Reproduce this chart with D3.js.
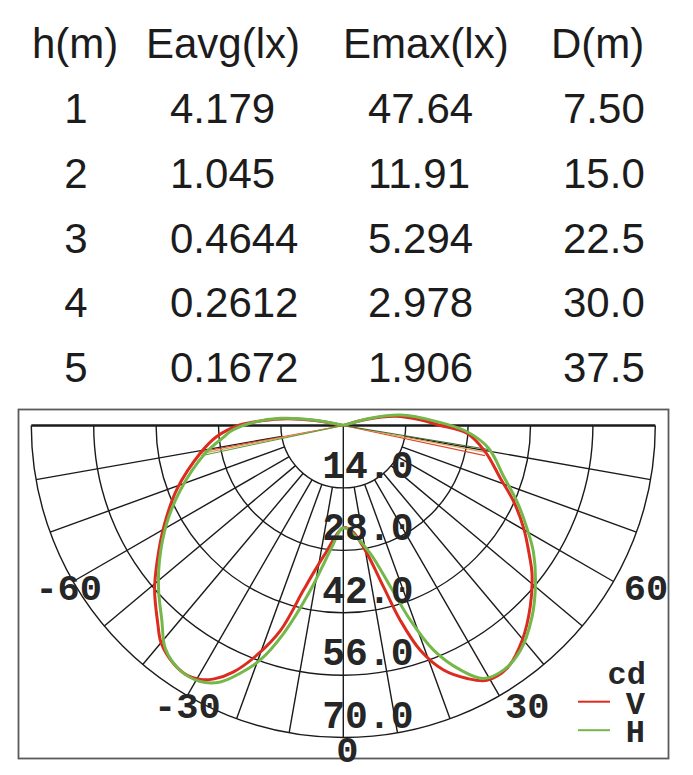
<!DOCTYPE html>
<meta charset="utf-8">
<title>Polar candela chart</title>
<style>
body { margin: 0; background: #fff; }
svg { display: block; }
.tbl { font-family: "Liberation Sans", Arial, sans-serif; font-size: 42px; fill: #1c1c1c; }
.grid { fill: none; stroke: #1a1a1a; stroke-width: 1.4; }
.lbl { font-family: "Liberation Mono", "Courier New", monospace; font-weight: bold; fill: #262626; }
</style>
<svg width="693" height="775"></svg>
<script src="https://d3js.org/d3.v7.min.js"></script>
<script>
// table
const headers = ["h(m)", "Eavg(lx)", "Emax(lx)", "D(m)"];
const heights = [1, 2, 3, 4, 5];
const eavg = ["4.179", "1.045", "0.4644", "0.2612", "0.1672"];
const emax = ["47.64", "11.91", "5.294", "2.978", "1.906"];
const dist = ["7.50", "15.0", "22.5", "30.0", "37.5"];

// polar grid
const ringTicks = [14, 28, 42, 56, 70];
const spokeAngles = [-80, -70, -60, -50, -40, -30, -20, -10, 0, 10, 20, 30, 40, 50, 60, 70, 80];
const angleLabels = [-60, -30, 0, 30, 60];

// [angle deg (0 = down, negative = left), cd]
const curveV = [
  [-104, 0], [-100, 6.5], [-96, 14.0], [-92, 20.5], [-90, 23.6], [-85, 28.5], [-79, 32.7],
  [-69, 40.0], [-61, 45.9], [-54, 51.6], [-49, 56.1], [-43, 61.0], [-40, 63.6], [-35.5, 65.6],
  [-32, 66.1], [-29.4, 65.4], [-27, 63.8], [-24, 60.5], [-20.6, 55.0], [-17, 48.0], [-13.6, 38.0],
  [-11, 33.0], [-7.3, 28.2], [-3, 24.2], [0, 22.9], [3, 23.2], [5.6, 24.2], [10.5, 29.2],
  [14, 37.3], [16.3, 45.5], [18.9, 53.3], [22.3, 59.3], [26.1, 63.2], [29.4, 65.6], [34, 65.7],
  [39.8, 62.7], [45.9, 58.4], [51.9, 53.8], [55, 51.0], [60.3, 46.6], [65.9, 41.9], [71.4, 37.2],
  [79.5, 32.4], [86.4, 27.8], [90.3, 21.4], [94, 17.5], [100, 12.0], [105, 5.5], [110, 0]
];
const curveH = [
  [-106, 0], [-100.5, 6.8], [-96.5, 14.2], [-91.4, 20.9], [-87, 25.4], [-85, 26.6], [-78.6, 31.6],
  [-68.4, 39.3], [-61, 45.3], [-53.8, 51.1], [-48.3, 55.5], [-43, 59.7], [-38.6, 64.0], [-33.7, 66.0],
  [-29.2, 65.8], [-25.6, 63.8], [-22.6, 60.2], [-19.5, 55.8], [-16, 48.5], [-11.3, 37.7], [-5.3, 27.3],
  [-1.5, 23.4], [0, 23.0], [2, 23.1], [4, 23.8], [11.9, 29.3], [16.3, 37.7], [19, 46.2], [21.9, 54.3],
  [25.6, 60.8], [29, 64.9], [33.3, 65.6], [38.3, 64.2], [44.6, 60.3], [50.6, 55.8], [56.4, 51.2],
  [60.8, 47.2], [66.3, 42.6], [72.3, 37.8], [81.1, 33.0], [87.1, 27.8], [92.4, 21.0],
  [100.4, 13.0], [104.9, 6.3], [110, 0]
];
// thin radial segments [angle, cd, colour]
const thinLines = [
  [-79.5, 33.0, "#e0452f"], [-78.8, 32.8, "#d9a04a"], [-78.0, 32.6, "#5c9a3c"],
  [78.0, 32.5, "#e0452f"], [79.3, 32.8, "#d9a04a"], [80.6, 33.0, "#3f6a2e"]
];
const series = [
  { name: "V", data: curveV, color: "#dc2b1f" },
  { name: "H", data: curveH, color: "#74b74a" }
];

const svg = d3.select("svg");
svg.append("rect").attr("width", 693).attr("height", 775).attr("fill", "#fff");

// ---- table
const rowY = d3.scaleLinear().domain([0, 1]).range([123, 187.75]);
const headX = [32, 146, 343, 551];
svg.selectAll(".hd").data(headers).enter().append("text")
  .attr("class", "tbl").attr("x", (d, i) => headX[i]).attr("y", 58).text(d => d);
const cols = [
  { vals: heights, x: 76, anchor: "middle" },
  { vals: eavg, x: 170, anchor: "start" },
  { vals: emax, x: 368, anchor: "start" },
  { vals: dist, x: 563, anchor: "start" }
];
cols.forEach(c => {
  svg.append("g").selectAll("text").data(c.vals).enter().append("text")
    .attr("class", "tbl").attr("text-anchor", c.anchor)
    .attr("x", c.x).attr("y", (d, i) => rowY(i)).text(d => d);
});

// ---- frame
svg.append("rect").attr("x", 18.5).attr("y", 409.5).attr("width", 650).attr("height", 349)
  .attr("fill", "none").attr("stroke", "#5a5a5a").attr("stroke-width", 1.8);

// ---- polar
const cx = 343.3, cy = 425.5, R = 312;
const r = d3.scaleLinear().domain([0, 70]).range([0, R]);
const rad = a => a * Math.PI / 180;
const px = (a, v) => r(v) * Math.sin(rad(a));
const py = (a, v) => r(v) * Math.cos(rad(a));
const g = svg.append("g").attr("transform", `translate(${cx},${cy})`);

g.selectAll(".ring").data(ringTicks).enter().append("path")
  .attr("class", "grid")
  .attr("d", d => { const p = d3.path(); p.arc(0, 0, r(d), 0, Math.PI); return p.toString(); });

g.selectAll(".spoke").data(spokeAngles).enter().append("line")
  .attr("class", "grid")
  .attr("x1", d => px(d, d === 0 ? 0 : ringTicks[0])).attr("y1", d => py(d, d === 0 ? 0 : ringTicks[0]))
  .attr("x2", d => px(d, 70)).attr("y2", d => py(d, 70));

g.append("line").attr("class", "grid").style("stroke-width", 2.4)
  .attr("x1", -r(70)).attr("x2", r(70)).attr("y1", 0).attr("y2", 0);

// curves
const radial = d3.lineRadial()
  .angle(d => Math.PI - rad(d[0]))
  .radius(d => r(d[1]));

g.selectAll(".thin").data(thinLines).enter().append("path")
  .attr("fill", "none").attr("stroke", d => d[2]).attr("stroke-width", 1.1)
  .attr("d", d => radial([[d[0], 0], [d[0], d[1]]]));

g.selectAll(".curve").data(series).enter().append("path")
  .attr("fill", "none").attr("stroke", d => d.color).attr("stroke-width", 3)
  .attr("stroke-linejoin", "round")
  .attr("d", d => radial.curve(d3.curveCatmullRom)(d.data));

// ring labels
g.selectAll(".rl").data(ringTicks).enter().append("text")
  .attr("class", "lbl").style("font-size", "38px")
  .attr("x", -21).attr("y", d => r(d) - 10)
  .text(d3.format(".1f"));

// angle labels
g.selectAll(".al").data(angleLabels).enter().append("text")
  .attr("class", "lbl").style("font-size", "37px").attr("text-anchor", "middle")
  .attr("x", d => px(d, 70) + Math.sin(rad(d)) * 12 + (d > 0 ? 22 : d < 0 ? 6 : 4))
  .attr("y", d => py(d, 70) + Math.cos(rad(d)) * 12 + 12)
  .text(d => d < 0 ? "-" + Math.abs(d) : d);

// legend
const lg = svg.append("g");
lg.append("text").attr("class", "lbl").style("font-size", "32px").attr("text-anchor", "end")
  .attr("x", 646).attr("y", 684).text("cd");
series.forEach((s, i) => {
  const y = 701.7 + i * 28.5;
  lg.append("line").attr("x1", 578).attr("x2", 610).attr("y1", y).attr("y2", y)
    .attr("stroke", s.color).attr("stroke-width", 2);
  lg.append("text").attr("class", "lbl").style("font-size", "32px").attr("text-anchor", "end")
    .attr("x", 645).attr("y", y + 12).text(s.name);
});
</script>
